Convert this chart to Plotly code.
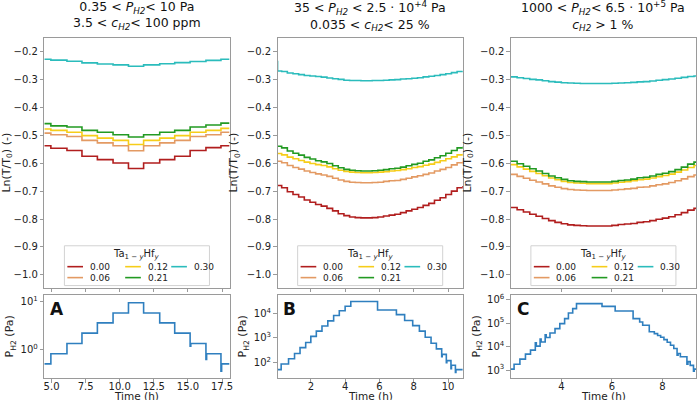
import plotly.graph_objects as go

# ---------------- data ----------------
series_names = ["0.00", "0.06", "0.12", "0.21", "0.30"]
series_colors = ["#b11e1e", "#e39a63", "#f6cd1a", "#229a22", "#2bbcbc"]

# Panel A : step boundaries (h) and Ln(T/T0) level of each step
tA = [4.47, 4.95, 6.13, 7.23, 8.36, 9.51, 10.64, 11.75, 12.93, 14.03, 15.16, 16.32, 17.42, 18.05]
A_000 = [-0.537, -0.546, -0.554, -0.575, -0.587, -0.599, -0.619, -0.599, -0.587, -0.575, -0.554, -0.544, -0.537]
A_006 = [-0.492, -0.498, -0.504, -0.518, -0.527, -0.537, -0.555, -0.537, -0.527, -0.518, -0.504, -0.498, -0.489]
A_012 = [-0.477, -0.482, -0.489, -0.501, -0.510, -0.518, -0.533, -0.518, -0.510, -0.501, -0.489, -0.482, -0.475]
A_021 = [-0.458, -0.466, -0.470, -0.482, -0.489, -0.498, -0.506, -0.498, -0.489, -0.482, -0.470, -0.463, -0.456]
A_030 = [-0.227, -0.230, -0.234, -0.240, -0.244, -0.247, -0.252, -0.247, -0.243, -0.239, -0.235, -0.231, -0.227]

# Panel A pressure (Pa), step time / value pairs
tPA = [4.47, 4.95, 6.13, 7.23, 8.36, 9.51, 10.64, 11.75, 12.93, 14.03, 15.16, 15.21, 16.32, 16.37, 17.42, 17.47, 18.05]
pA = [0.5, 0.81, 1.33, 2.2, 3.6, 5.8, 9.5, 5.8, 3.6, 2.2, 1.17, 1.33, 0.62, 0.81, 0.35, 0.5, 0.5]

# Panel B
tB = [0.06, 0.3, 0.63, 0.96, 1.29, 1.62, 1.95, 2.28, 2.61, 2.94, 3.27, 3.6, 3.93, 4.26, 4.59, 4.92, 5.25,
      5.58, 5.91, 6.24, 6.57, 6.9, 7.23, 7.56, 7.89, 8.22, 8.55, 8.88, 9.21, 9.54, 9.87, 10.2, 10.53, 10.86]
B_000 = [-0.680, -0.688, -0.702, -0.712, -0.721, -0.732, -0.740, -0.748, -0.754, -0.762, -0.771, -0.781,
         -0.788, -0.793, -0.795, -0.796, -0.796, -0.795, -0.793, -0.789, -0.786, -0.783, -0.777, -0.771,
         -0.765, -0.759, -0.751, -0.744, -0.733, -0.724, -0.712, -0.700, -0.688, -0.682]
B_006 = [-0.593, -0.598, -0.608, -0.615, -0.621, -0.628, -0.633, -0.638, -0.642, -0.647, -0.654, -0.660,
         -0.665, -0.668, -0.669, -0.670, -0.670, -0.669, -0.668, -0.665, -0.663, -0.662, -0.658, -0.654,
         -0.649, -0.645, -0.640, -0.635, -0.628, -0.622, -0.615, -0.606, -0.598, -0.595]
B_012 = [-0.565, -0.570, -0.578, -0.584, -0.590, -0.596, -0.601, -0.605, -0.608, -0.613, -0.620, -0.625,
         -0.629, -0.632, -0.633, -0.634, -0.634, -0.633, -0.632, -0.630, -0.628, -0.626, -0.623, -0.620,
         -0.615, -0.612, -0.607, -0.603, -0.597, -0.591, -0.584, -0.577, -0.570, -0.566]
B_021 = [-0.539, -0.545, -0.556, -0.564, -0.571, -0.579, -0.585, -0.591, -0.595, -0.601, -0.609, -0.616,
         -0.622, -0.625, -0.627, -0.628, -0.628, -0.627, -0.625, -0.623, -0.620, -0.618, -0.614, -0.609,
         -0.604, -0.600, -0.593, -0.588, -0.580, -0.573, -0.564, -0.554, -0.545, -0.541]
B_030 = [-0.269, -0.271, -0.276, -0.279, -0.282, -0.285, -0.287, -0.289, -0.291, -0.294, -0.297, -0.299,
         -0.302, -0.303, -0.303, -0.304, -0.304, -0.303, -0.303, -0.302, -0.301, -0.300, -0.298, -0.297,
         -0.295, -0.293, -0.290, -0.288, -0.285, -0.282, -0.279, -0.275, -0.271, -0.270]
B_030_start = -0.232

tPB = [0.06, 0.27, 0.70, 1.05, 1.37, 1.70, 2.0, 2.32, 2.65, 2.99, 3.33, 3.66, 4.0, 4.33, 5.89, 6.99, 7.47,
       7.94, 8.33, 8.67, 9.01, 9.32, 9.63, 9.66, 9.9, 9.93, 10.17, 10.2, 10.43, 10.46, 10.86]
pB = [50, 85, 140, 230, 400, 650, 1150, 1900, 3100, 5000, 8300, 13000, 20000, 31000, 14000, 9000, 5200,
      3200, 1900, 1070, 600, 355, 170, 210, 95, 117, 55, 75, 38, 50, 50]

# Panel C
tC = [2.0, 2.25, 2.5, 2.75, 3.0, 3.25, 3.5, 3.75, 4.0, 4.25, 4.5, 4.75, 5.0, 5.25, 5.5, 5.75, 6.0, 6.25,
      6.5, 6.75, 7.0, 7.25, 7.5, 7.75, 8.0, 8.25, 8.5, 8.75, 9.0, 9.25, 9.33]
C_000 = [-0.759, -0.767, -0.775, -0.783, -0.790, -0.798, -0.806, -0.812, -0.817, -0.821, -0.823, -0.824,
         -0.825, -0.825, -0.825, -0.825, -0.823, -0.820, -0.818, -0.816, -0.812, -0.810, -0.806, -0.801,
         -0.797, -0.792, -0.785, -0.777, -0.768, -0.762, -0.759]
C_006 = [-0.640, -0.647, -0.654, -0.661, -0.667, -0.674, -0.681, -0.686, -0.691, -0.694, -0.696, -0.697,
         -0.698, -0.698, -0.698, -0.698, -0.696, -0.694, -0.692, -0.690, -0.686, -0.685, -0.681, -0.677,
         -0.674, -0.669, -0.663, -0.656, -0.648, -0.642, -0.640]
C_012 = [-0.605, -0.613, -0.621, -0.629, -0.637, -0.645, -0.653, -0.659, -0.665, -0.669, -0.671, -0.672,
         -0.673, -0.673, -0.673, -0.673, -0.671, -0.668, -0.666, -0.663, -0.659, -0.657, -0.653, -0.648,
         -0.644, -0.639, -0.632, -0.624, -0.615, -0.608, -0.606]
C_021 = [-0.593, -0.602, -0.611, -0.620, -0.628, -0.637, -0.646, -0.652, -0.658, -0.663, -0.665, -0.666,
         -0.667, -0.667, -0.667, -0.667, -0.665, -0.662, -0.660, -0.657, -0.652, -0.650, -0.646, -0.640,
         -0.636, -0.630, -0.623, -0.614, -0.603, -0.596, -0.594]
C_030 = [-0.290, -0.293, -0.296, -0.299, -0.301, -0.304, -0.307, -0.309, -0.311, -0.312, -0.313, -0.314,
         -0.314, -0.314, -0.314, -0.314, -0.313, -0.312, -0.311, -0.310, -0.308, -0.307, -0.305, -0.302,
         -0.300, -0.298, -0.295, -0.292, -0.289, -0.287, -0.286]

tPC = [2.0, 2.13, 2.36, 2.58, 2.78, 2.97, 3.01, 3.16, 3.20, 3.36, 3.40, 3.55, 3.75, 3.94, 4.13, 4.28, 4.45,
       4.6, 5.61, 6.13, 6.84, 7.10, 7.22, 7.48, 7.68, 7.81, 7.93, 8.06, 8.19, 8.32, 8.45, 8.58, 8.62, 8.71,
       8.97, 9.01, 9.10, 9.23, 9.26, 9.33]
pC = [1100, 1780, 2950, 4800, 7100, 14500, 10500, 21000, 15800, 32000, 24400, 38000, 58500, 96000,
      156000, 270000, 415000, 680000, 520000, 330000, 156000, 112000, 81000, 43000, 36000, 30000, 25000,
      20000, 15500, 11500, 8300, 4300, 5100, 3700, 1800, 2300, 1600, 900, 1100, 1100]

x_ticks_A = [5.0, 7.5, 10.0, 12.5, 15.0, 17.5]
x_ticks_B = [2, 4, 6, 8, 10]
x_ticks_C = [4, 6, 8]
y_ticks_top = [-1.0, -0.9, -0.8, -0.7, -0.6, -0.5, -0.4, -0.3, -0.2]

titles = [
    "0.35 &lt; <i>P</i><sub><i>H2</i></sub>&lt; 10 Pa<br>3.5 &lt; <i>c</i><sub><i>H2</i></sub>&lt; 100 ppm",
    "35 &lt; <i>P</i><sub><i>H2</i></sub> &lt; 2.5 · 10<sup>+4</sup> Pa<br>0.035 &lt; <i>c</i><sub><i>H2</i></sub>&lt; 25 %",
    "1000 &lt; <i>P</i><sub><i>H2</i></sub>&lt; 6.5 · 10<sup>+5</sup> Pa<br><i>c</i><sub><i>H2</i></sub> &gt; 1 %",
]
panel_letters = ["A", "B", "C"]
legend_title = "Ta<sub>1 − <i>y</i></sub>Hf<sub><i>y</i></sub>"

# ---------------- figure ----------------
W, H = 700, 400
fig = go.Figure()

panels = [
    dict(t=tA, ys=[A_000, A_006, A_012, A_021, A_030], tp=tPA, p=pA, xt=x_ticks_A, xfmt="{:.1f}",
         xr=[tA[0], tA[-1]], yr=[-0.6, 1.15], pt=[1, 10], ptt=["10<sup>0</sup>", "10<sup>1</sup>"], px=(34, 223)),
    dict(t=tB, ys=[B_000, B_006, B_012, B_021, B_030], tp=tPB, p=pB, xt=x_ticks_B, xfmt="{:d}",
         xr=[tB[0], tB[-1]], yr=[1.35, 4.78], pt=[100, 1000, 10000],
         ptt=["10<sup>2</sup>", "10<sup>3</sup>", "10<sup>4</sup>"], px=(272, 461)),
    dict(t=tC, ys=[C_000, C_006, C_012, C_021, C_030], tp=tPC, p=pC, xt=x_ticks_C, xfmt="{:d}",
         xr=[tC[0], tC[-1]], yr=[2.66, 6.22], pt=[1e3, 1e4, 1e5, 1e6],
         ptt=["10<sup>3</sup>", "10<sup>4</sup>", "10<sup>5</sup>", "10<sup>6</sup>"], px=(510, 699)),
]

top_dom = [1 - 287 / H, 1 - 36 / H]
bot_dom = [1 - 378 / H, 1 - 294 / H]
axcol = "#9a9a9a"
common_axis = dict(showline=True, linecolor=axcol, linewidth=1, mirror=True, ticks="outside",
                   ticklen=3.5, tickcolor=axcol, showgrid=False, zeroline=False,
                   tickfont=dict(size=10))

# legend layout (pixel offsets from the legend box centre): column line start / text start, row y
leg_cols = [(-71, -50), (-12, 9), (35, 56)]
leg_pos = [(0, 0), (0, 1), (1, 0), (1, 1), (2, 0)]
leg_rows = [266, 277]


def px2x(v):
    return v / W


def py2y(v):
    return 1 - v / H


for i, pnl in enumerate(panels):
    n = i + 1
    xt_top = "x" if n == 1 else f"x{n}"
    yt_top = "y" if n == 1 else f"y{n}"
    xb = f"x{n + 3}"
    yb = f"y{n + 3}"
    for k in range(5):
        ys = list(pnl["ys"][k])
        ts = list(pnl["t"])
        if len(ys) == len(ts) - 1:
            ys = ys + [ys[-1]]
        if n == 2 and k == 4:
            ts = [ts[0]] + ts
            ys = [B_030_start] + ys
        fig.add_trace(go.Scatter(
            x=ts, y=ys, mode="lines", line=dict(color=series_colors[k], width=1.6, shape="hv"),
            name=series_names[k], xaxis=xt_top, yaxis=yt_top, showlegend=False))
    fig.add_trace(go.Scatter(
        x=pnl["tp"], y=pnl["p"], mode="lines", line=dict(color="#2f7fbf", width=1.6, shape="hv"),
        name="P<sub>H2</sub>", xaxis=xb, yaxis=yb, showlegend=False))

    dom = [px2x(pnl["px"][0]), px2x(pnl["px"][1])]
    xkey_top = "xaxis" if n == 1 else f"xaxis{n}"
    ykey_top = "yaxis" if n == 1 else f"yaxis{n}"
    fig.update_layout({
        xkey_top: dict(common_axis, domain=dom, anchor=yt_top, range=pnl["xr"], tickvals=pnl["xt"],
                       showticklabels=False),
        ykey_top: dict(common_axis, domain=top_dom, anchor=xt_top, range=[-1.046, -0.15],
                       tickvals=y_ticks_top, tickformat=".1f",
                       title=dict(text="Ln(T/T<sub>0</sub>) (-)", standoff=6, font=dict(size=11))),
        f"xaxis{n + 3}": dict(common_axis, domain=dom, anchor=yb, range=pnl["xr"], tickvals=pnl["xt"],
                              ticktext=[pnl["xfmt"].format(v) for v in pnl["xt"]], ticklabelstandoff=-5),
        f"yaxis{n + 3}": dict(common_axis, domain=bot_dom, anchor=xb, type="log", range=pnl["yr"],
                              tickvals=pnl["pt"], ticktext=pnl["ptt"],
                              title=dict(text="P<sub>H2</sub> (Pa)", standoff=4, font=dict(size=11))),
    })
    cx = (pnl["px"][0] + pnl["px"][1]) / 2
    # panel title
    fig.add_annotation(x=px2x(cx), y=py2y(14), xref="paper", yref="paper",
                       text=titles[i], showarrow=False, xanchor="center", yanchor="middle",
                       font=dict(size=12.5, color="#111"))
    # time axis title
    fig.add_annotation(x=px2x(cx), y=py2y(395.5), xref="paper", yref="paper", text="Time (h)",
                       showarrow=False, xanchor="center", yanchor="middle", font=dict(size=10.5, color="#222"))
    # panel letter
    fig.add_annotation(x=px2x(pnl["px"][0] + 4), y=py2y(296), xref="paper", yref="paper",
                       text=f"<b>{panel_letters[i]}</b>", showarrow=False, xanchor="left", yanchor="top",
                       font=dict(size=17, color="#111"))
    # legend box
    fig.add_shape(type="rect", xref="paper", yref="paper", x0=px2x(cx - 74), x1=px2x(cx + 74),
                  y0=py2y(285), y1=py2y(245), line=dict(color="#d2d2d2", width=1),
                  fillcolor="rgba(255,255,255,0.85)", layer="above")
    fig.add_annotation(x=px2x(cx), y=py2y(253.5), xref="paper", yref="paper", text=legend_title,
                       showarrow=False, xanchor="center", yanchor="middle", font=dict(size=10, color="#222"))
    for k in range(5):
        col, row = leg_pos[k]
        lx, tx = leg_cols[col]
        ry = leg_rows[row]
        fig.add_shape(type="line", xref="paper", yref="paper", x0=px2x(cx + lx), x1=px2x(cx + lx + 16),
                      y0=py2y(ry), y1=py2y(ry), line=dict(color=series_colors[k], width=1.6), layer="above")
        fig.add_annotation(x=px2x(cx + tx), y=py2y(ry), xref="paper", yref="paper", text=series_names[k],
                           showarrow=False, xanchor="left", yanchor="middle", font=dict(size=9, color="#222"))

fig.update_layout(width=W, height=H, margin=dict(l=0, r=0, t=0, b=0), paper_bgcolor="white",
                  plot_bgcolor="white", font=dict(family="DejaVu Sans", size=10, color="#222"),
                  showlegend=False)

fig.write_html("out.html")
